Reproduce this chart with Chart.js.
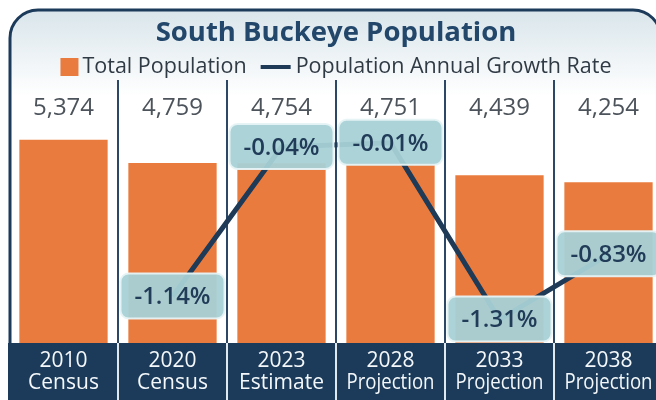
<!DOCTYPE html>
<html>
<head>
<meta charset="utf-8">
<title>South Buckeye Population</title>
<script src="https://cdn.jsdelivr.net/npm/chart.js@4.4.1/dist/chart.umd.min.js"></script>
<style>
  html, body { margin: 0; padding: 0; background: #fff; overflow: hidden; }
  #wrap { width: 668px; height: 400px; }
</style>
</head>
<body>
<div id="wrap"><canvas id="chart" width="668" height="400"></canvas></div>
<script>
// --- DATA ---
const titleText = 'South Buckeye Population';
const legendLabels = ['Total Population', 'Population Annual Growth Rate'];
const years = ['2010', '2020', '2023', '2028', '2033', '2038'];
const kinds = ['Census', 'Census', 'Estimate', 'Projection', 'Projection', 'Projection'];
const population = [5374, 4759, 4754, 4751, 4439, 4254];
const growthRate = [null, -1.14, -0.04, -0.01, -1.31, -0.83];

// --- STYLE ---
const FONT = '"Open Sans", "Noto Sans", sans-serif';
const navy = '#1c3b5b';
const orange = '#ea7b3e';
const lineColor = '#1e3a57';
const boxFill = 'rgba(168, 209, 214, 0.95)';
const boxEdge = 'rgba(230, 243, 245, 0.95)';

function roundRect(ctx, x, y, w, h, r) {
    ctx.beginPath();
    ctx.moveTo(x + r, y);
    ctx.arcTo(x + w, y, x + w, y + h, r);
    ctx.arcTo(x + w, y + h, x, y + h, r);
    ctx.arcTo(x, y + h, x, y, r);
    ctx.arcTo(x, y, x + w, y, r);
    ctx.closePath();
}

// header frame, legend, dividers, bottom band
const backdrop = {
    id: 'backdrop',
    beforeDraw(chart) {
        const { ctx, chartArea, scales } = chart;
        const left = 10, right = 661, top = 10, r = 28;
        ctx.save();
        // header gradient inside the frame
        const grad = ctx.createLinearGradient(0, top, 0, 96);
        grad.addColorStop(0, '#d9e5eb');
        grad.addColorStop(1, '#ffffff');
        ctx.beginPath();
        ctx.moveTo(left, chartArea.bottom);
        ctx.lineTo(left, top + r);
        ctx.arcTo(left, top, left + r, top, r);
        ctx.lineTo(right - r, top);
        ctx.arcTo(right, top, right, top + r, r);
        ctx.lineTo(right, chartArea.bottom);
        ctx.fillStyle = grad;
        ctx.fill();
        ctx.strokeStyle = navy;
        ctx.lineWidth = 3;
        ctx.stroke();

        // bottom band
        ctx.fillStyle = navy;
        ctx.fillRect(8, chartArea.bottom, chart.width, chart.height - chartArea.bottom);

        // column dividers
        const x = scales.x;
        for (let i = 0; i < years.length - 1; i++) {
            const xd = (x.getPixelForValue(i) + x.getPixelForValue(i + 1)) / 2;
            ctx.strokeStyle = '#2c4866';
            ctx.lineWidth = 2;
            ctx.beginPath();
            ctx.moveTo(xd, 80);
            ctx.lineTo(xd, chartArea.bottom);
            ctx.stroke();
            ctx.strokeStyle = '#dfe8ee';
            ctx.beginPath();
            ctx.moveTo(xd, chartArea.bottom);
            ctx.lineTo(xd, chart.height);
            ctx.stroke();
        }

        // category labels, squeezed to the column like the original
        ctx.fillStyle = '#f4f8fa';
        ctx.textAlign = 'center';
        ctx.textBaseline = 'middle';
        ctx.font = '21px ' + FONT;
        years.forEach((y, i) => {
            const cx = x.getPixelForValue(i);
            ctx.fillText(y, cx, chartArea.bottom + 18, 92);
            ctx.fillText(kinds[i], cx, chartArea.bottom + 40, 88);
        });

        // legend
        ctx.font = '21.5px ' + FONT;
        const w1 = ctx.measureText(legendLabels[0]).width;
        const w2 = ctx.measureText(legendLabels[1]).width;
        const total = 18 + 4 + w1 + 14 + 30 + 5 + w2;
        let lx = 336 - total / 2;
        const ly = 67;
        ctx.fillStyle = orange;
        ctx.fillRect(lx, ly - 9, 18, 18);
        lx += 22;
        ctx.fillStyle = '#2f3a44';
        ctx.textAlign = 'left';
        ctx.fillText(legendLabels[0], lx, ly);
        lx += w1 + 14;
        ctx.strokeStyle = lineColor;
        ctx.lineWidth = 4;
        ctx.beginPath();
        ctx.moveTo(lx, ly);
        ctx.lineTo(lx + 30, ly);
        ctx.stroke();
        lx += 35;
        ctx.fillText(legendLabels[1], lx, ly);
        ctx.restore();
    },
    afterDatasetsDraw(chart) {
        const { ctx, chartArea } = chart;
        ctx.save();
        ctx.textAlign = 'center';
        ctx.textBaseline = 'middle';

        // population values along the top row
        const bars = chart.getDatasetMeta(0).data;
        ctx.font = '24px ' + FONT;
        ctx.fillStyle = '#4c535a';
        bars.forEach((bar, i) => {
            ctx.fillText(population[i].toLocaleString('en-US'), bar.x, chartArea.top + 13);
        });

        // growth rate boxes
        const pts = chart.getDatasetMeta(1).data;
        ctx.font = '600 24px ' + FONT;
        pts.forEach((pt, i) => {
            if (growthRate[i] === null) return;
            roundRect(ctx, pt.x - 52, pt.y - 23, 104, 45, 8);
            ctx.fillStyle = boxFill;
            ctx.fill();
            ctx.strokeStyle = boxEdge;
            ctx.lineWidth = 2;
            ctx.stroke();
            ctx.fillStyle = '#213c58';
            ctx.fillText(growthRate[i].toFixed(2) + '%', pt.x, pt.y + 1);
        });
        ctx.restore();
    }
};

new Chart(document.getElementById('chart'), {
    type: 'bar',
    data: {
        labels: years.map((y, i) => [y, kinds[i]]),
        datasets: [{
            type: 'bar',
            label: legendLabels[0],
            data: population,
            backgroundColor: orange,
            barPercentage: 0.81,
            categoryPercentage: 1,
            yAxisID: 'y',
            order: 1
        }, {
            type: 'line',
            label: legendLabels[1],
            data: growthRate,
            borderColor: lineColor,
            borderWidth: 5,
            pointRadius: 0,
            tension: 0,
            yAxisID: 'y2',
            order: 0
        }]
    },
    options: {
        responsive: false,
        animation: false,
        devicePixelRatio: 1,
        layout: { padding: { left: 9, right: 5, top: 0, bottom: 0 } },
        plugins: {
            title: {
                display: true,
                text: titleText,
                color: '#22476b',
                font: { family: FONT, size: 27.5, weight: 'bold', lineHeight: 1.2 },
                padding: { top: 17, bottom: 45 }
            },
            legend: { display: false },
            tooltip: { enabled: false }
        },
        scales: {
            x: {
                grid: { display: false, drawTicks: false },
                border: { display: false },
                ticks: { display: false },
                afterFit(scale) { scale.height = 57; }
            },
            y: { display: false, min: 0, max: 6560 },
            y2: { display: false, min: -1.482, max: 0.342 }
        }
    },
    plugins: [backdrop]
});
</script>
</body>
</html>
